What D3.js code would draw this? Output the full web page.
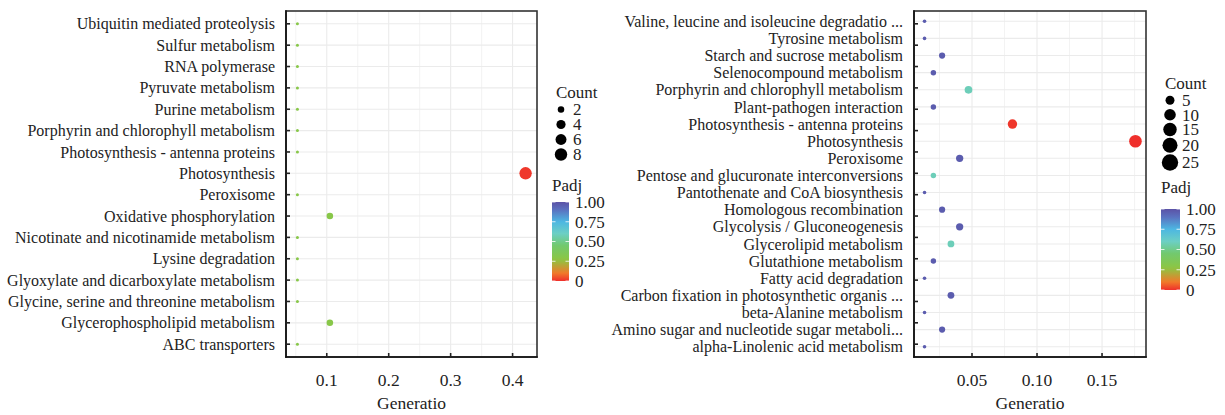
<!DOCTYPE html>
<html>
<head>
<meta charset="utf-8">
<script src="https://cdn.jsdelivr.net/npm/d3@7"></script>
<style>
  body { margin: 0; background: #fff; }
  text { font-family: "Liberation Serif", "DejaVu Serif", serif; }
  .grid line { stroke: #ebebeb; }
  .lbl { fill: #222; }
</style>
</head>
<body>
<svg id="chart" width="1225" height="415" font-family="Liberation Serif, serif"></svg>
<script>
// left panel, listed top to bottom as drawn
const leftTerms = [
    "Ubiquitin mediated proteolysis", "Sulfur metabolism", "RNA polymerase",
    "Pyruvate metabolism", "Purine metabolism", "Porphyrin and chlorophyll metabolism",
    "Photosynthesis - antenna proteins", "Photosynthesis", "Peroxisome",
    "Oxidative phosphorylation", "Nicotinate and nicotinamide metabolism",
    "Lysine degradation", "Glyoxylate and dicarboxylate metabolism",
    "Glycine, serine and threonine metabolism", "Glycerophospholipid metabolism",
    "ABC transporters"
];
const leftCount = [1, 1, 1, 1, 1, 1, 1, 8, 1, 2, 1, 1, 1, 1, 2, 1];
const leftRatio = [0.0526, 0.0526, 0.0526, 0.0526, 0.0526, 0.0526, 0.0526, 0.421,
    0.0526, 0.105, 0.0526, 0.0526, 0.0526, 0.0526, 0.105, 0.0526];
const leftPadj = [0.3, 0.3, 0.3, 0.3, 0.3, 0.3, 0.3, 0.01, 0.3, 0.3, 0.3, 0.3, 0.3, 0.3, 0.3, 0.3];
const leftSizeBreaks = [2, 4, 6, 8];

// right panel
const rightTerms = [
    "Valine, leucine and isoleucine degradatio ...", "Tyrosine metabolism",
    "Starch and sucrose metabolism", "Selenocompound metabolism",
    "Porphyrin and chlorophyll metabolism", "Plant-pathogen interaction",
    "Photosynthesis - antenna proteins", "Photosynthesis", "Peroxisome",
    "Pentose and glucuronate interconversions", "Pantothenate and CoA biosynthesis",
    "Homologous recombination", "Glycolysis / Gluconeogenesis", "Glycerolipid metabolism",
    "Glutathione metabolism", "Fatty acid degradation",
    "Carbon fixation in photosynthetic organis ...", "beta-Alanine metabolism",
    "Amino sugar and nucleotide sugar metaboli...", "alpha-Linolenic acid metabolism"
];
const rightCount = [2, 2, 4, 3, 7, 3, 12, 26, 6, 3, 2, 4, 6, 5, 3, 2, 5, 2, 4, 2];
const rightRatio = [0.0135, 0.0135, 0.027, 0.0203, 0.0473, 0.0203, 0.0811, 0.1757, 0.0405,
    0.0203, 0.0135, 0.027, 0.0405, 0.0338, 0.0203, 0.0135, 0.0338, 0.0135, 0.027, 0.0135];
const rightPadj = [0.97, 0.97, 0.97, 0.97, 0.58, 0.97, 0.01, 0.0, 0.97, 0.58, 0.97,
    0.97, 0.97, 0.58, 0.97, 0.97, 0.97, 0.97, 0.97, 0.97];
const rightSizeBreaks = [5, 10, 15, 20, 25];

const padjTicks = [0, 0.25, 0.5, 0.75, 1];
const padjTickLabels = ["0", "0.25", "0.50", "0.75", "1.00"];

const padjStops = [0, 0.1, 0.27, 0.45, 0.6, 0.75, 0.9, 1];
const padjColors = ["#ef2f2b", "#f07a2a", "#8cc642", "#72c96e", "#6ccfc4", "#4db7e2", "#5a72c0", "#5b52a6"];

const FONT = "'Liberation Serif', 'DejaVu Serif', serif";

const color = d3.scaleLinear().domain(padjStops).range(padjColors);

const svg = d3.select("#chart");
const defs = svg.append("defs");

function label(sel, size) {
    return sel.attr("class", "lbl").style("font-family", FONT).attr("font-size", size);
}

function drawPanel(cfg) {
    const {terms, count, ratio, padj, left, right, top, bottom, xTicks, xFmt,
        rMin, rMax, legend, tickTerms} = cfg;
    const rows = terms.map((t, i) => ({term: t, count: count[i], ratio: ratio[i], padj: padj[i]}));

    // ggplot style 5% expansion
    const [lo, hi] = d3.extent(ratio);
    const pad = (hi - lo) * 0.05;
    const x = d3.scaleLinear().domain([lo - pad, hi + pad]).range([left, right]);
    const y = d3.scalePoint().domain(terms).range([top, bottom]).padding(0.6);

    const [cMin, cMax] = d3.extent(count);
    const size = d3.scalePow().exponent(0.5).domain([0, cMax - cMin]).range([rMin, rMax]);
    const radius = c => size(Math.max(0, c - cMin));

    const g = svg.append("g");

    // grid
    const grid = g.append("g").attr("class", "grid");
    const step = xTicks[1] - xTicks[0];
    const minor = d3.range(Math.ceil((x.domain()[0] - step / 2) / step) * step + step / 2, x.domain()[1], step)
        .filter(v => v > x.domain()[0]);
    grid.selectAll("line.minor").data(minor).join("line")
        .attr("x1", d => x(d)).attr("x2", d => x(d))
        .attr("y1", top).attr("y2", bottom).attr("stroke-width", 0.6);
    grid.selectAll("line.vmaj").data(xTicks).join("line")
        .attr("x1", d => x(d)).attr("x2", d => x(d))
        .attr("y1", top).attr("y2", bottom).attr("stroke-width", 1.1);
    grid.selectAll("line.h").data(terms).join("line")
        .attr("x1", left).attr("x2", right)
        .attr("y1", d => y(d)).attr("y2", d => y(d)).attr("stroke-width", 1.1);

    // dots
    g.append("g").selectAll("circle").data(rows).join("circle")
        .attr("cx", d => x(d.ratio))
        .attr("cy", d => y(d.term))
        .attr("r", d => radius(d.count))
        .attr("fill", d => color(d.padj));

    // border
    g.append("rect")
        .attr("x", left).attr("y", top)
        .attr("width", right - left).attr("height", bottom - top)
        .attr("fill", "none").attr("stroke", "#333").attr("stroke-width", 1.6);
    g.append("line").attr("x1", left).attr("x2", left).attr("y1", top - 0.8).attr("y2", bottom + 0.8)
        .attr("stroke", "#111").attr("stroke-width", 1.6);
    g.append("line").attr("x1", left - 0.8).attr("x2", right + 0.8).attr("y1", bottom).attr("y2", bottom)
        .attr("stroke", "#111").attr("stroke-width", 1.6);

    // y tick marks (the source image reuses the left panel's tick rows)
    const yt = tickTerms ? d3.scalePoint().domain(tickTerms).range([top, bottom]).padding(0.6) : y;
    g.append("g").selectAll("line").data(yt.domain()).join("line")
        .attr("x1", left).attr("x2", left + 4)
        .attr("y1", d => yt(d)).attr("y2", d => yt(d))
        .attr("stroke", "#222").attr("stroke-width", 1.6);

    // y labels
    label(g.append("g").selectAll("text").data(terms).join("text"), 16)
        .attr("x", left - 11).attr("y", d => y(d))
        .attr("dy", "0.35em").attr("text-anchor", "end")
        .text(d => d);

    // x ticks
    g.append("g").selectAll("line").data(xTicks).join("line")
        .attr("x1", d => x(d)).attr("x2", d => x(d))
        .attr("y1", bottom - 4).attr("y2", bottom)
        .attr("stroke", "#222").attr("stroke-width", 1.6);
    label(g.append("g").selectAll("text").data(xTicks).join("text"), 17.5)
        .attr("x", d => x(d)).attr("y", bottom + 23)
        .attr("dy", "0.35em").attr("text-anchor", "middle")
        .text(xFmt);
    label(g.append("text"), 17.5)
        .attr("x", (left + right) / 2).attr("y", bottom + 46)
        .attr("dy", "0.35em").attr("text-anchor", "middle")
        .text("Generatio");

    // legend: size
    const L = legend;
    const lg = svg.append("g");
    label(lg.append("text"), 17)
        .attr("x", L.x).attr("y", L.countY).attr("dy", "0.35em")
        .text("Count");
    const lr = c => radius(c) * L.keyScale;
    let cy = L.countY + 10;
    const keys = L.breaks.map(b => {
        const h = Math.max(L.keyH, 2 * lr(b) + 1.5);
        const k = {b, y: cy + h / 2};
        cy += h;
        return k;
    });
    lg.selectAll("circle").data(keys).join("circle")
        .attr("cx", L.x + 5).attr("cy", d => d.y).attr("r", d => lr(d.b)).attr("fill", "#000");
    label(lg.selectAll("text.key").data(keys).join("text"), 17)
        .attr("x", L.x + 17).attr("y", d => d.y).attr("dy", "0.35em")
        .text(d => d.b);

    // legend: colour bar
    label(lg.append("text"), 17)
        .attr("x", L.x - 4).attr("y", L.padjY).attr("dy", "0.35em")
        .text("Padj");
    const gid = "grad" + L.x;
    const grad = defs.append("linearGradient").attr("id", gid)
        .attr("x1", 0).attr("x2", 0).attr("y1", 1).attr("y2", 0);
    grad.selectAll("stop").data(d3.range(0, 1.001, 0.05)).join("stop")
        .attr("offset", d => d).attr("stop-color", d => color(d));
    const bar = d3.scaleLinear().domain([0, 1]).range([L.barBottom, L.barTop]);
    lg.append("rect")
        .attr("x", L.x - 4).attr("y", L.barTop)
        .attr("width", L.barW).attr("height", L.barBottom - L.barTop)
        .attr("fill", `url(#${gid})`);
    lg.selectAll("line.bt").data(padjTicks).join("line")
        .attr("x1", L.x - 4).attr("x2", L.x - 4 + L.barW)
        .attr("y1", d => bar(d)).attr("y2", d => bar(d))
        .attr("stroke", "#fff").attr("stroke-width", 0.8)
        .attr("stroke-dasharray", `3.5,${L.barW - 7},3.5`);
    label(lg.selectAll("text.bl").data(padjTicks).join("text"), 17)
        .attr("x", L.x - 4 + L.barW + 6).attr("y", d => bar(d)).attr("dy", "0.35em")
        .text((d, i) => padjTickLabels[i]);
}

drawPanel({
    terms: leftTerms, count: leftCount, ratio: leftRatio, padj: leftPadj,
    left: 286, right: 537, top: 11, bottom: 357,
    xTicks: [0.1, 0.2, 0.3, 0.4], xFmt: d3.format(".1f"),
    rMin: 1.5, rMax: 6.2,
    legend: {x: 556, countY: 92, breaks: leftSizeBreaks, keyH: 15, keyScale: 1,
        padjY: 185, barTop: 202, barBottom: 281, barW: 17}
});

drawPanel({
    terms: rightTerms, count: rightCount, ratio: rightRatio, padj: rightPadj,
    left: 914, right: 1146, top: 11, bottom: 357,
    xTicks: [0.05, 0.10, 0.15], xFmt: d3.format(".2f"),
    rMin: 1.8, rMax: 6.3, tickTerms: leftTerms,
    legend: {x: 1165, countY: 83, breaks: rightSizeBreaks, keyH: 14.5, keyScale: 1.32,
        padjY: 187, barTop: 209, barBottom: 290, barW: 19}
});
</script>
</body>
</html>
